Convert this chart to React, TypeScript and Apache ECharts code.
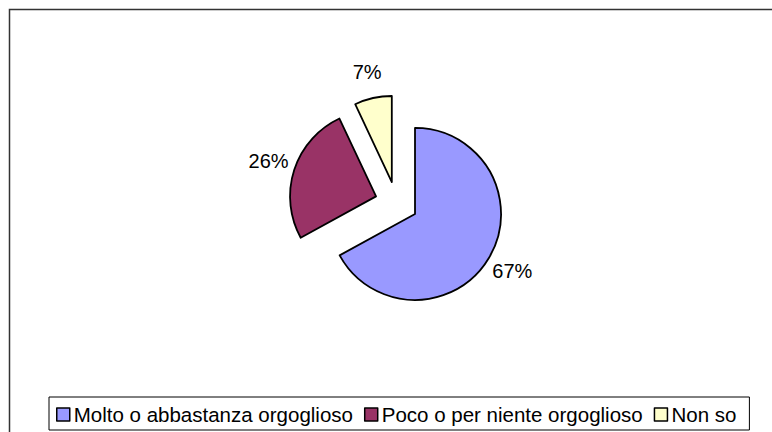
import React, { useEffect, useRef } from "react";
import * as echarts from "echarts";

const categories = ["Molto o abbastanza orgoglioso", "Poco o per niente orgoglioso", "Non so"];
const values = [67, 26, 7];
const colors = ["#9999FF", "#993366", "#FFFFCC"];

const FONT = "'Liberation Sans', Arial, sans-serif";

export default function App() {
  const ref = useRef<HTMLDivElement>(null);
  useEffect(() => {
    if (!ref.current) return;
    const chart = echarts.init(ref.current, null, { renderer: "svg" });
    const data = categories.map((name, i) => ({
      name,
      value: values[i],
      selected: true,
      itemStyle: { color: colors[i] },
    }));
    chart.setOption({
      animation: false,
      backgroundColor: "#ffffff",
      graphic: [
        {
          type: "rect",
          shape: { x: 9.5, y: 9.5, width: 800, height: 500 },
          style: { fill: "none", stroke: "#333333", lineWidth: 1.5 },
          silent: true,
        },
      ],
      legend: {
        data: categories,
        left: 49,
        top: 397,
        orient: "horizontal",
        padding: [7, 13, 5, 7],
        borderColor: "#000000",
        borderWidth: 1,
        backgroundColor: "#ffffff",
        itemGap: 11,
        itemWidth: 13,
        itemHeight: 13,
        icon: "rect",
        selectedMode: false,
        itemStyle: { borderColor: "#000000", borderWidth: 1.5 },
        textStyle: { fontFamily: FONT, fontSize: 20.5, color: "#000000", padding: [0, 0, 0, -1] },
      },
      series: [
        {
          type: "pie",
          center: [396.5, 203],
          radius: 86,
          startAngle: 90,
          clockwise: true,
          avoidLabelOverlap: false,
          selectedMode: "multiple",
          selectedOffset: 21.5,
          data,
          itemStyle: { borderColor: "#000000", borderWidth: 1.8 },
          select: { itemStyle: { borderColor: "#000000", borderWidth: 1.8 } },
          emphasis: { disabled: true },
          label: {
            show: true,
            position: "outside",
            formatter: "{c}%",
            fontFamily: FONT,
            fontSize: 20,
            color: "#000000",
            distanceToLabelLine: 0,
          },
          labelLine: { show: false, length: 27, length2: 0 },
          labelLayout: () => ({ align: "center", verticalAlign: "middle" }),
        },
      ],
    });
    return () => chart.dispose();
  }, []);
  return (
    <div
      ref={ref}
      style={{ position: "fixed", left: 0, top: 0, width: 772, height: 432 }}
    />
  );
}
